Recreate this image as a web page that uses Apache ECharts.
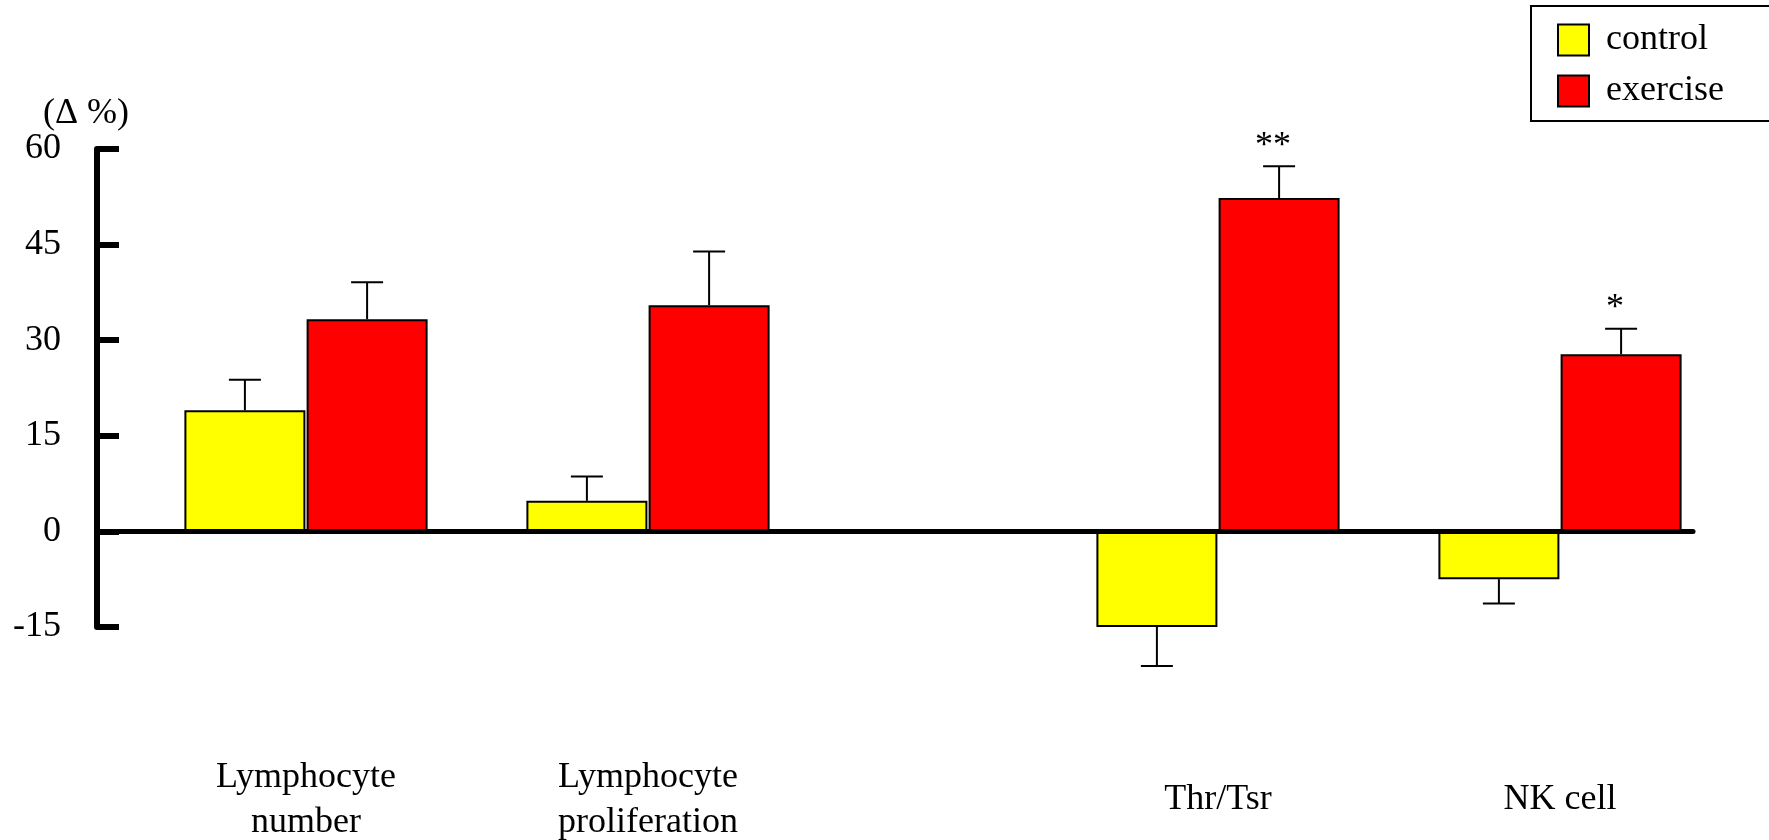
<!DOCTYPE html>
<html>
<head>
<meta charset="utf-8">
<script src="https://cdn.jsdelivr.net/npm/echarts@6/dist/echarts.min.js"></script>
<style>
  html, body { margin: 0; padding: 0; background: #fff; }
  #chart { width: 1769px; height: 840px; }
</style>
</head>
<body>
<div id="chart"></div>
<script>
// ---------- data ----------
const categories = ['Lymphocyte\nnumber', 'Lymphocyte\nproliferation', 'Thr/Tsr', 'NK cell'];
const controlValues = [19.0, 4.8, -15.0, -7.5];
const exerciseValues = [33.3, 35.5, 52.3, 27.8];
const controlErrors = [4.8, 3.8, 6.1, 3.8];
const exerciseErrors = [5.8, 8.4, 5.0, 4.0];
const exerciseSignificance = ['', '', '**', '*'];
const seriesNames = ['control', 'exercise'];
const yMin = -15, yMax = 60, yStep = 15;

// ---------- layout (category slots on the x axis, blanks are empty slots) ----------
const SLOT_COUNT = 42;
const slotOf = [5, 14, 29, 38];
const BAR_W = 121;
const FONT = 'Liberation Serif';

const axisCats = new Array(SLOT_COUNT).fill('');
const ctrlFull = new Array(SLOT_COUNT).fill(null);
const exFull = new Array(SLOT_COUNT).fill(null);
categories.forEach((c, i) => {
  axisCats[slotOf[i]] = c;
  ctrlFull[slotOf[i]] = controlValues[i];
  exFull[slotOf[i]] = exerciseValues[i];
});
const ctrlErrData = categories.map((c, i) => [slotOf[i], controlValues[i], controlErrors[i]]);
const exErrData = categories.map((c, i) => [slotOf[i], exerciseValues[i], exerciseErrors[i]]);

function errRenderer(dx, sigs) {
  return function (params, api) {
    const idx = api.value(0), v = api.value(1), e = api.value(2);
    const dir = v >= 0 ? 1 : -1;
    const p0 = api.coord([idx, v]);
    const p1 = api.coord([idx, v + dir * e]);
    const x = p0[0] + dx;
    const st = { stroke: '#000', lineWidth: 2 };
    const children = [
      { type: 'line', shape: { x1: x, y1: p0[1], x2: x, y2: p1[1] }, style: st },
      { type: 'line', shape: { x1: x - 16, y1: p1[1], x2: x + 16, y2: p1[1] }, style: st }
    ];
    const s = sigs ? sigs[params.dataIndex] : '';
    if (s) {
      children.push({
        type: 'text',
        style: {
          text: s, x: x - 6, y: p1[1] - 20,
          font: '36px ' + FONT, fill: '#000',
          align: 'center', verticalAlign: 'middle'
        }
      });
    }
    return { type: 'group', children: children };
  };
}

const chart = echarts.init(document.getElementById('chart'), null, { renderer: 'canvas' });
const half = (BAR_W + 1.2) / 2;
chart.setOption({
  animation: false,
  backgroundColor: '#fff',
  textStyle: { fontFamily: FONT, color: '#000' },
  grid: { left: 97, right: 76, top: 149, bottom: 213, containLabel: false, outerBoundsMode: 'none' },
  legend: {
    data: seriesNames,
    orient: 'vertical',
    left: 1531, top: 6,
    itemWidth: 31, itemHeight: 31, itemGap: 15,
    padding: [16, 220, 12, 26],
    borderColor: '#000', borderWidth: 2,
    icon: 'rect',
    textStyle: { fontSize: 36, fontFamily: FONT, color: '#000', lineHeight: 31, padding: [0, 0, 0, 12] }
  },
  xAxis: {
    type: 'category',
    data: axisCats,
    axisLine: { show: true, onZero: true, lineStyle: { color: '#000', width: 5 } },
    axisTick: { show: false },
    splitLine: { show: false },
    axisLabel: {
      interval: 0, fontSize: 36, fontFamily: FONT, color: '#000',
      lineHeight: 45, margin: 173, verticalAlign: 'middle'
    },
    z: 5
  },
  yAxis: {
    type: 'value',
    min: yMin, max: yMax, interval: yStep,
    name: '(Δ %)',
    nameLocation: 'end',
    nameGap: 14,
    nameTextStyle: { fontSize: 36, fontFamily: FONT, color: '#000', padding: [0, 22, 0, 0] },
    axisLine: { show: true, lineStyle: { color: '#000', width: 6 } },
    axisTick: { show: true, inside: true, length: 22, lineStyle: { color: '#000', width: 6 } },
    axisLabel: { fontSize: 36, fontFamily: FONT, color: '#000', margin: 36, padding: [12, 0, 0, 0] },
    splitLine: { show: false }
  },
  series: [
    {
      name: seriesNames[0], type: 'bar', data: ctrlFull,
      barWidth: BAR_W, barGap: '1%',
      itemStyle: { color: '#FFFF00', borderColor: '#000', borderWidth: 2 }
    },
    {
      name: seriesNames[1], type: 'bar', data: exFull,
      barWidth: BAR_W, barGap: '1%',
      itemStyle: { color: '#FF0000', borderColor: '#000', borderWidth: 2 }
    },
    {
      type: 'custom', name: 'control-err', data: ctrlErrData,
      renderItem: errRenderer(-half, null), z: 6, silent: true
    },
    {
      type: 'custom', name: 'exercise-err', data: exErrData,
      renderItem: errRenderer(half, exerciseSignificance), z: 6, silent: true
    }
  ]
});
</script>
</body>
</html>
